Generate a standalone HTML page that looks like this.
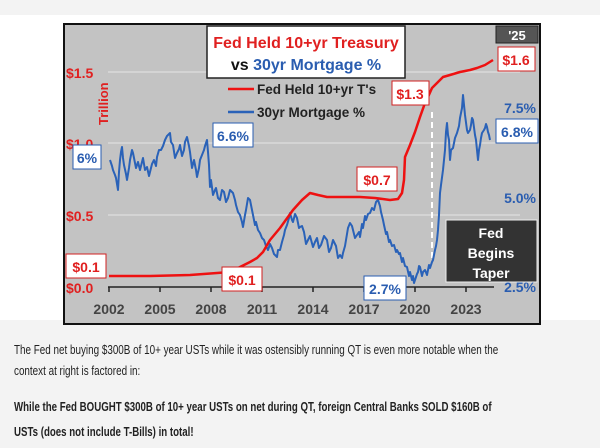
<!DOCTYPE html>
<html><head><style>
body{margin:0;width:600px;height:448px;background:#f3f3f3;font-family:"Liberation Sans",sans-serif;overflow:hidden;position:relative}
.p{position:absolute;left:14px;font-size:12.5px;color:#222;line-height:21px;white-space:nowrap;transform:scaleX(0.79);transform-origin:0 0}
</style></head><body>
<div style="position:absolute;left:0;top:15px;width:600px;height:305px;background:#fff"></div>
<svg style="position:absolute;left:0;top:0" width="600" height="330" font-family="Liberation Sans, sans-serif">
<rect x="64" y="24" width="476" height="300" fill="#c3c3c3" stroke="#111" stroke-width="2"/>
<g stroke="#e4e4e4" stroke-width="1">
<line x1="108" y1="72" x2="520" y2="72"/><line x1="108" y1="143" x2="520" y2="143"/><line x1="108" y1="215" x2="520" y2="215"/></g>
<line x1="108" y1="287" x2="494" y2="287" stroke="#222" stroke-width="1.5"/>
<g stroke="#222" stroke-width="1.5"><line x1="109" y1="287" x2="109" y2="292"/><line x1="160" y1="287" x2="160" y2="292"/><line x1="211" y1="287" x2="211" y2="292"/><line x1="262" y1="287" x2="262" y2="292"/><line x1="313" y1="287" x2="313" y2="292"/><line x1="364" y1="287" x2="364" y2="292"/><line x1="415" y1="287" x2="415" y2="292"/><line x1="466" y1="287" x2="466" y2="292"/></g>
<g font-size="14" font-weight="bold" fill="#444" text-anchor="middle"><text x="109" y="314">2002</text><text x="160" y="314">2005</text><text x="211" y="314">2008</text><text x="262" y="314">2011</text><text x="313" y="314">2014</text><text x="364" y="314">2017</text><text x="415" y="314">2020</text><text x="466" y="314">2023</text></g>
<g font-size="14" font-weight="bold" fill="#e02020"><text x="66" y="78">$1.5</text><text x="66" y="149">$1.0</text><text x="66" y="221">$0.5</text><text x="66" y="293">$0.0</text></g>
<text x="0" y="0" transform="translate(108,125) rotate(-90)" font-size="13" font-weight="bold" fill="#e02020">Trillion</text>
<g font-size="14" font-weight="bold" fill="#2a5db0" text-anchor="end"><text x="536" y="113">7.5%</text><text x="536" y="203">5.0%</text><text x="536" y="292">2.5%</text></g>
<line x1="432" y1="112" x2="432" y2="258" stroke="#fff" stroke-width="2" stroke-dasharray="6,4"/>
<path d="M110,160 L112,166 113,170 115,175 116,178 117,184 118,190 119,172 120,160 121,152 122,147 123,158 124,165 126,174 127,180 129,168 130,160 132,150 133,153 135,163 136,168 138,162 140,170 142,162 143,158 145,170 147,167 149,176 150,172 152,164 154,160 156,166 157,157 159,150 161,150 163,146 165,140 167,136 170,133 171,142 173,145 175,158 177,153 179,149 180,145 182,156 184,150 185,142 187,137 189,146 190,152 192,168 194,160 196,170 197,177 199,168 200,160 202,155 204,150 205,146 207,140 208,152 209,165 210,187 211,180 213,195 215,190 216,188 218,198 220,200 222,190 224,192 226,202 228,198 230,190 233,193 235,200 236,205 238,212 240,215 242,222 243,227 245,215 246,210 248,198 250,200 252,210 253,215 255,225 256,222 258,230 260,233 262,238 264,240 266,246 268,250 270,244 272,248 274,254 277,257 278,250 280,250 282,242 284,235 285,230 287,225 289,218 290,213 292,220 293,222 295,214 297,218 299,228 300,227 302,226 304,232 306,244 308,240 310,236 313,247 315,242 317,238 319,248 321,245 324,236 327,240 329,252 331,248 333,240 336,246 338,258 340,255 342,258 343,253 345,246 346,240 348,228 350,223 352,226 353,230 355,238 357,235 359,232 360,237 362,224 363,228 365,216 366,220 368,214 370,213 372,208 374,210 376,202 378,200 380,206 381,212 383,220 384,225 386,234 387,232 389,242 390,240 392,246 394,245 396,252 397,250 399,254 400,253 402,262 403,258 405,266 407,267 409,276 410,272 412,280 413,276 414,283 415,280 417,274 418,272 419,266 420,267 422,276 423,272 425,270 427,275 429,265 430,268 432,262 433,260 434,255 435,250 436,246 437,240 438,230 439,215 440,193 441,185 443,170 444,160 445,150 446,132 447,123 448,135 449,140 450,160 451,150 453,148 455,138 457,133 459,126 460,118 462,108 463,95 464,105 465,115 467,130 468,133 470,130 471,125 472,118 473,120 475,135 476,140 477,150 478,160 479,150 480,145 481,138 482,133 484,130 485,128 486,124 487,127 488,132 489,135 490,140" fill="none" stroke="#2a62b8" stroke-width="2" stroke-linejoin="round"/>
<path d="M109,276 L150,276 190,275 217,273 230,272 240,267 250,262 257,258 263,252 270,240 280,228 293,210 302,200 310,193 318,195 327,197 360,197 375,198 390,200 398,199 402,193 404,180 405,157 410,145 415,132 420,117 425,103 428,97 432,88 437,83 443,77 450,75 460,72 470,70 477,68 485,65 493,60" fill="none" stroke="#ee1111" stroke-width="2.5" stroke-linejoin="round"/>
<rect x="207" y="26" width="198" height="52" fill="#fff" stroke="#222" stroke-width="1.5"/>
<text x="306" y="48" text-anchor="middle" font-size="16" font-weight="bold" fill="#e02020">Fed Held 10+yr Treasury</text>
<text x="306" y="70" text-anchor="middle" font-size="16" font-weight="bold" fill="#111">vs <tspan fill="#2a5db0">30yr Mortgage %</tspan></text>
<line x1="228" y1="89" x2="254" y2="89" stroke="#ee1111" stroke-width="2.5"/>
<line x1="228" y1="112" x2="254" y2="112" stroke="#2a62b8" stroke-width="2.5"/>
<text x="257" y="94" font-size="13.5" font-weight="bold" fill="#222">Fed Held 10+yr T's</text>
<text x="257" y="117" font-size="13.5" font-weight="bold" fill="#222">30yr Mortgage %</text>
<rect x="496" y="26" width="42" height="17" fill="#555" stroke="#222"/>
<text x="517" y="40" text-anchor="middle" font-size="13" font-weight="bold" fill="#fff">'25</text>
<g font-size="14" font-weight="bold">
<rect x="498" y="47" width="37" height="24" fill="#fff" stroke="#d02020"/><text x="516" y="65" text-anchor="middle" fill="#e02020">$1.6</text>
<rect x="392" y="81" width="37" height="24" fill="#fff" stroke="#d02020"/><text x="410" y="99" text-anchor="middle" fill="#e02020">$1.3</text>
<rect x="357" y="167" width="40" height="24" fill="#fff" stroke="#d02020"/><text x="377" y="185" text-anchor="middle" fill="#e02020">$0.7</text>
<rect x="66" y="254" width="40" height="24" fill="#fff" stroke="#d02020"/><text x="86" y="272" text-anchor="middle" fill="#e02020">$0.1</text>
<rect x="222" y="267" width="40" height="24" fill="#fff" stroke="#d02020"/><text x="242" y="285" text-anchor="middle" fill="#e02020">$0.1</text>
<rect x="73" y="145" width="28" height="24" fill="#fff" stroke="#2a5db0"/><text x="87" y="163" text-anchor="middle" fill="#2a5db0">6%</text>
<rect x="213" y="123" width="40" height="24" fill="#fff" stroke="#2a5db0"/><text x="233" y="141" text-anchor="middle" fill="#2a5db0">6.6%</text>
<rect x="496" y="119" width="42" height="24" fill="#fff" stroke="#2a5db0"/><text x="517" y="137" text-anchor="middle" fill="#2a5db0">6.8%</text>
<rect x="364" y="276" width="42" height="24" fill="#fff" stroke="#2a5db0"/><text x="385" y="294" text-anchor="middle" fill="#2a5db0">2.7%</text>
</g>
<rect x="446" y="220" width="91" height="62" fill="#333" stroke="#eee"/>
<g font-size="14" font-weight="bold" fill="#fff" text-anchor="middle"><text x="491" y="238">Fed</text><text x="491" y="258">Begins</text><text x="491" y="278">Taper</text></g>
</svg>
<div class="p" style="top:340px">The Fed net buying $300B of 10+ year USTs while it was ostensibly running QT is even more notable when the<br>context at right is factored in:</div>
<div class="p" style="top:395px;font-weight:bold;line-height:25px;transform:scaleX(0.775)">While the Fed BOUGHT $300B of 10+ year USTs on net during QT, foreign Central Banks SOLD $160B of<br>USTs (does not include T-Bills) in total!</div>
</body></html>
